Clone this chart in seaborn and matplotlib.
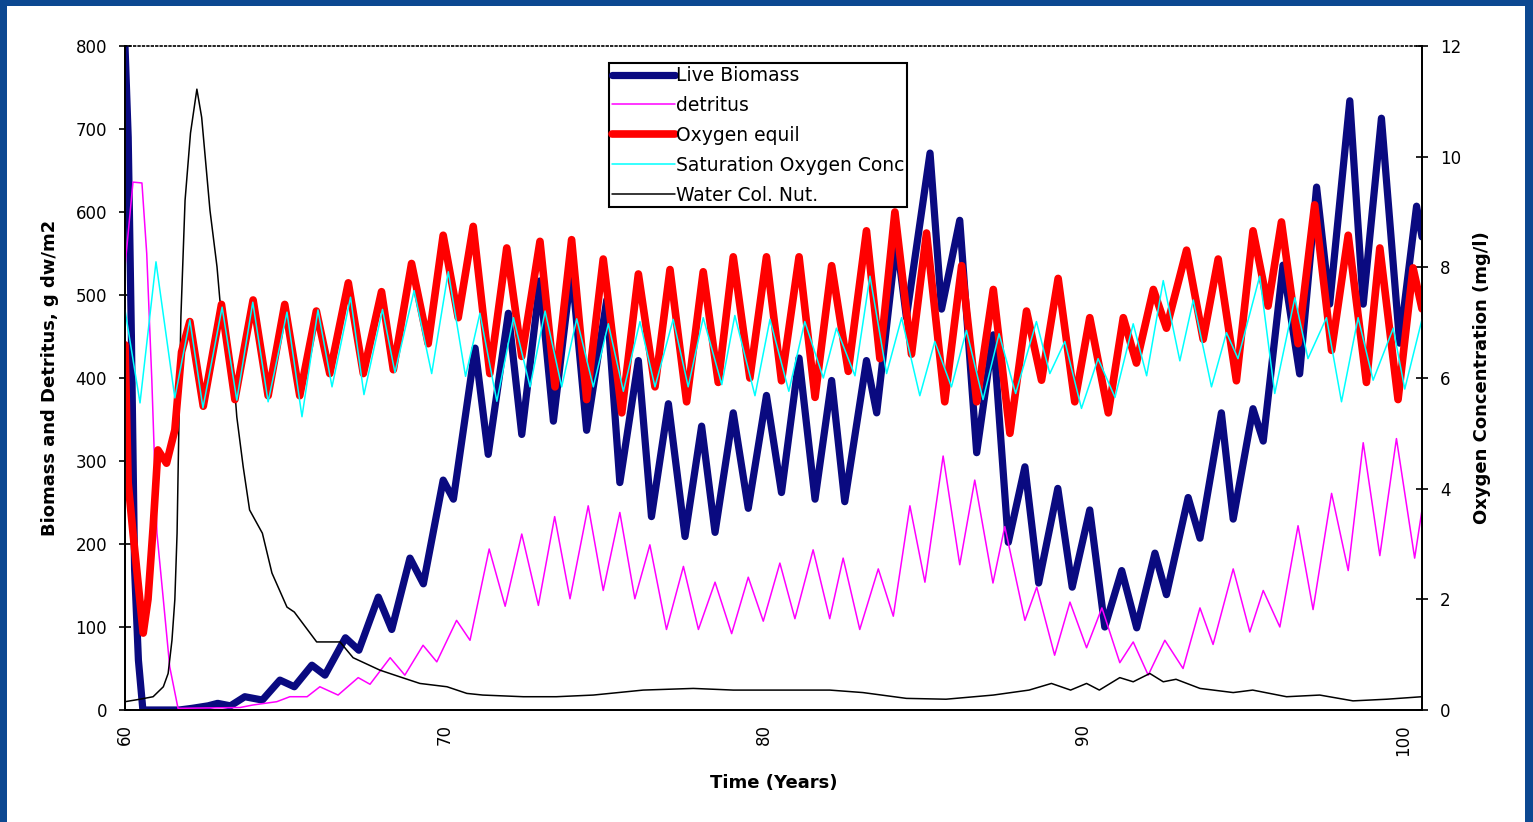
import matplotlib
matplotlib.use('Agg')
import matplotlib.pyplot as plt
import matplotlib.patches as mpatches
import seaborn as sns

# values (peaks / troughs of each yearly cycle)
biomass_t = [60.0, 60.1, 60.2, 60.3, 60.42, 60.56, 61.7, 62.1, 62.6, 62.9, 63.3, 63.75,
             64.3, 64.85, 65.3, 65.85, 66.26, 66.9, 67.32, 67.93, 68.35, 68.92, 69.34,
             69.96, 70.28, 70.96, 71.37, 72.0, 72.42, 72.99, 73.41, 73.98, 74.45, 75.08,
             75.49, 76.07, 76.48, 77.01, 77.53, 78.05, 78.47, 79.04, 79.51, 80.08, 80.55,
             81.1, 81.6, 82.12, 82.53, 83.21, 83.53, 84.15, 84.46, 85.2, 85.56, 86.13,
             86.66, 87.18, 87.65, 88.17, 88.6, 89.2, 89.65, 90.2, 90.67, 91.2, 91.67,
             92.24, 92.6, 93.28, 93.65, 94.32, 94.69, 95.31, 95.63, 96.25, 96.77, 97.3,
             97.71, 98.34, 98.76, 99.33, 99.9, 100.43, 100.6]
live_biomass = [800, 690, 450, 170, 60, 0, 0, 2, 5, 8, 5, 16,
                12, 36, 28, 54, 42, 87, 72, 136, 97, 183, 152,
                277, 254, 436, 308, 478, 332, 517, 348, 533, 337, 494,
                274, 421, 233, 369, 209, 342, 214, 358, 243, 379, 262,
                424, 254, 397, 251, 421, 358, 567, 473, 671, 483, 590,
                310, 452, 202, 293, 153, 267, 148, 241, 100, 168, 99,
                189, 139, 256, 207, 358, 230, 363, 324, 536, 405, 630,
                489, 734, 489, 713, 442, 607, 570]

detritus_t = [60.0, 60.25, 60.53, 60.68, 60.84, 61.0, 61.2, 61.4, 61.66, 63.6, 64.0,
              64.75, 65.16, 65.7, 66.1, 66.67, 67.3, 67.67, 68.3, 68.76, 69.33, 69.76,
              70.38, 70.8, 71.4, 71.9, 72.42, 72.94, 73.45, 73.93, 74.5, 74.97, 75.49,
              75.96, 76.43, 76.95, 77.48, 77.95, 78.47, 78.99, 79.51, 79.98, 80.5, 80.97,
              81.54, 82.06, 82.48, 83.0, 83.58, 84.05, 84.57, 85.04, 85.61, 86.13, 86.6,
              87.17, 87.54, 88.17, 88.54, 89.1, 89.58, 90.1, 90.58, 91.14, 91.56, 92.03,
              92.55, 93.12, 93.65, 94.06, 94.69, 95.21, 95.63, 96.15, 96.72, 97.19, 97.77,
              98.29, 98.76, 99.28, 99.8, 100.37, 100.6]
detritus = [534, 636, 635, 550, 397, 213, 133, 52, 2, 3, 6,
            10, 16, 16, 28, 18, 39, 31, 63, 42, 78, 58,
            108, 84, 194, 125, 212, 126, 233, 134, 246, 144, 238,
            134, 199, 97, 173, 97, 154, 92, 160, 107, 177, 110,
            193, 110, 183, 97, 170, 113, 246, 154, 306, 175, 277,
            153, 221, 108, 148, 66, 130, 75, 123, 57, 82, 42,
            84, 50, 123, 79, 170, 94, 144, 100, 222, 121, 261,
            168, 322, 186, 327, 183, 241]

oxygen_t = [60.0, 60.1, 60.25, 60.57, 60.72, 60.88, 61.03, 61.3, 61.56, 61.77, 62.03,
            62.45, 63.02, 63.44, 64.01, 64.48, 65.0, 65.47, 65.99, 66.41, 66.99, 67.46,
            68.03, 68.4, 68.97, 69.49, 69.96, 70.43, 70.9, 71.42, 71.95, 72.42, 72.99,
            73.46, 73.98, 74.45, 74.97, 75.55, 76.07, 76.59, 77.06, 77.58, 78.1, 78.57,
            79.04, 79.56, 80.08, 80.55, 81.1, 81.6, 82.12, 82.64, 83.21, 83.63, 84.1,
            84.62, 85.09, 85.66, 86.19, 86.66, 87.18, 87.7, 88.22, 88.69, 89.21, 89.73,
            90.2, 90.78, 91.25, 91.66, 92.19, 92.6, 93.23, 93.75, 94.22, 94.79, 95.31,
            95.78, 96.2, 96.72, 97.24, 97.77, 98.29, 98.86, 99.28, 99.85, 100.32, 100.6]
oxygen_equil = [6.6, 4.1, 3.2, 1.39, 2.0, 3.3, 4.7, 4.46, 5.06, 6.47, 7.02,
                5.49, 7.33, 5.61, 7.41, 5.68, 7.33, 5.68, 7.21, 6.08, 7.72, 6.08,
                7.56, 6.15, 8.07, 6.62, 8.58, 7.09, 8.74, 6.08, 8.35, 6.39, 8.47,
                5.84, 8.5, 5.61, 8.15, 5.37, 7.88, 5.84, 7.96, 5.57, 7.92, 5.92,
                8.19, 6.0, 8.19, 5.95, 8.19, 5.65, 8.03, 6.12, 8.66, 6.35, 9.0,
                6.43, 8.62, 5.57, 8.03, 5.57, 7.6, 5.0, 7.21, 5.96, 7.8, 5.57,
                7.09, 5.37, 7.09, 6.27, 7.6, 6.9, 8.31, 6.7, 8.15, 5.95, 8.66,
                7.3, 8.82, 6.62, 9.13, 6.5, 8.58, 5.92, 8.35, 5.61, 7.99, 7.25]

saturation_t = [60.0, 60.47, 60.97, 61.56, 62.03, 62.44, 63.04, 63.5, 64.0, 64.48, 65.07,
                65.54, 66.04, 66.48, 67.06, 67.48, 68.06, 68.45, 69.05, 69.6, 70.12, 70.66,
                71.11, 71.64, 72.16, 72.68, 73.15, 73.67, 74.14, 74.66, 75.13, 75.6, 76.12,
                76.59, 77.16, 77.63, 78.1, 78.68, 79.09, 79.72, 80.19, 80.78, 81.28, 81.86,
                82.27, 82.85, 83.32, 83.84, 84.31, 84.88, 85.35, 85.87, 86.34, 86.86, 87.36,
                87.88, 88.53, 88.95, 89.42, 89.94, 90.46, 90.99, 91.56, 91.98, 92.5, 93.02,
                93.44, 94.01, 94.48, 94.84, 95.52, 95.99, 96.62, 97.03, 97.61, 98.08, 98.6,
                99.07, 99.7, 100.06, 100.6]
saturation_o2 = [7.23, 5.55, 8.1, 5.64, 7.05, 5.46, 7.28, 5.6, 7.37, 5.57, 7.19,
                 5.3, 7.23, 5.84, 7.46, 5.7, 7.24, 6.1, 7.58, 6.08, 7.92, 6.03,
                 7.17, 5.58, 7.09, 5.84, 7.21, 5.84, 7.07, 5.84, 6.98, 5.76, 7.02,
                 5.84, 7.06, 5.84, 7.09, 5.88, 7.13, 5.68, 7.06, 5.76, 7.02, 6.0,
                 6.9, 6.04, 7.84, 6.08, 7.09, 5.68, 6.66, 5.84, 6.86, 5.61, 6.8,
                 5.72, 7.02, 6.08, 6.66, 5.45, 6.35, 5.65, 6.98, 6.04, 7.76, 6.31,
                 7.41, 5.84, 6.82, 6.35, 7.84, 5.72, 7.45, 6.35, 7.09, 5.57, 7.09,
                 5.96, 6.9, 5.8, 7.06]

nutrient_t = [60.0, 60.47, 60.88, 61.2, 61.35, 61.47, 61.56, 61.63, 61.7, 61.75, 61.88,
              62.05, 62.25, 62.4, 62.66, 62.88, 62.97, 63.38, 63.5, 63.7, 63.9, 64.3,
              64.6, 65.07, 65.3, 66.0, 66.73, 67.14, 67.98, 68.6, 69.23, 70.08, 70.7,
              71.2, 72.47, 73.5, 74.66, 76.22, 77.79, 79.04, 80.4, 82.06, 83.1, 84.46,
              85.7, 87.18, 88.3, 89.0, 89.6, 90.1, 90.5, 91.14, 91.56, 92.08, 92.5,
              92.9, 93.65, 94.69, 95.3, 96.36, 97.4, 98.44, 99.5, 100.6]
water_nut = [10, 13, 16, 28, 44, 84, 133, 213, 373, 474, 614,
             695, 748, 714, 602, 534, 494, 413, 353, 293, 241, 213,
             165, 124, 118, 82, 82, 63, 48, 40, 32, 28, 20,
             18, 16, 16, 18, 24, 26, 24, 24, 24, 21, 14,
             13, 18, 24, 32, 24, 32, 24, 39, 34, 44, 34,
             37, 26, 21, 24, 16, 18, 11, 13, 16]

sns.set_style('white')
plt.rcParams['font.family'] = ['DejaVu Sans']
plt.rcParams['text.color'] = 'black'
plt.rcParams['axes.labelcolor'] = 'black'

fig = plt.figure(figsize=(15.33, 8.22), dpi=100)
fig.patch.set_facecolor('#0c4891')
# white inner panel, the blue frame shows round it
fig.patches.append(mpatches.Rectangle((7 / 1533, 0), 1518 / 1533, 816 / 822,
                                      transform=fig.transFigure, facecolor='white',
                                      edgecolor='none', zorder=-5))

ax = fig.add_axes([125 / 1533, 1 - 710 / 822, 1297 / 1533, 664 / 822])
ax.set_facecolor('none')
ax2 = ax.twinx()
ax2.set_facecolor('none')

sns.lineplot(x=biomass_t, y=live_biomass, ax=ax, color='#0a0a80', linewidth=5.2,
             estimator=None, label='Live Biomass', legend=False)
sns.lineplot(x=detritus_t, y=detritus, ax=ax, color='#ff00ff', linewidth=1.1,
             estimator=None, label='detritus', legend=False)
sns.lineplot(x=nutrient_t, y=water_nut, ax=ax, color='black', linewidth=1.1,
             estimator=None, label='Water Col. Nut.', legend=False)
sns.lineplot(x=oxygen_t, y=oxygen_equil, ax=ax2, color='#ff0000', linewidth=5.5,
             estimator=None, label='Oxygen equil', legend=False)
sns.lineplot(x=saturation_t, y=saturation_o2, ax=ax2, color='#00ffff', linewidth=1.1,
             estimator=None, label='Saturation Oxygen Conc', legend=False)

ax.set_xlim(60, 100.6)
ax.set_ylim(0, 800)
ax2.set_ylim(0, 12)
ax.set_xticks([60, 70, 80, 90, 100])
ax.set_yticks(range(0, 801, 100))
ax2.set_yticks(range(0, 13, 2))

for a in (ax, ax2):
    a.tick_params(direction='inout', length=8, width=1.2, labelsize=12, colors='black')
    for s in a.spines.values():
        s.set_color('black')
        s.set_linewidth(1.3)
ax.tick_params(axis='x', labelrotation=90, pad=6)
ax.tick_params(axis='y', pad=9)
ax2.tick_params(axis='y', pad=9)
ax.spines['top'].set_linestyle(':')
ax.spines['top'].set_linewidth(1.2)
ax2.spines['top'].set_visible(False)

ax.set_xlabel('Time (Years)', fontsize=13, fontweight='bold')
ax.set_ylabel('Biomass and Detritus, g dw/m2', fontsize=13, fontweight='bold')
ax2.set_ylabel('Oxygen Concentration (mg/l)', fontsize=13, fontweight='bold', rotation=90)
ax.xaxis.set_label_coords(0.5, -0.096)
ax.yaxis.set_label_coords(-0.051, 0.5)
ax2.yaxis.set_label_coords(1.039, 0.5)

h1, l1 = ax.get_legend_handles_labels()
h2, l2 = ax2.get_legend_handles_labels()
handles = dict(zip(l1 + l2, h1 + h2))
order = ['Live Biomass', 'detritus', 'Oxygen equil', 'Saturation Oxygen Conc', 'Water Col. Nut.']
leg = ax2.legend([handles[k] for k in order], order, loc='upper left',
                 bbox_to_anchor=(0.373, 0.974), borderaxespad=0, fontsize=13.5,
                 frameon=True, fancybox=False, framealpha=1, edgecolor='black',
                 handlelength=3.4, handletextpad=0.05, labelspacing=0.58, borderpad=0.15)
leg.get_frame().set_linewidth(1.5)

fig.savefig('out.png', dpi=100, facecolor=fig.get_facecolor())
